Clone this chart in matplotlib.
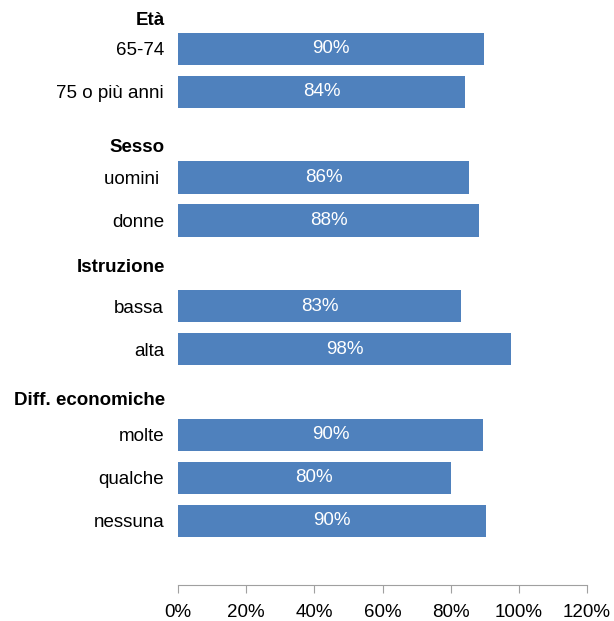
import matplotlib.pyplot as plt

# rows of the chart (top to bottom), slot index on y
labels = ["65-74", "75 o più anni", "uomini ", "donne", "bassa", "alta",
          "molte", "qualche", "nessuna"]
slots = [0, 1, 3, 4, 6, 7, 9, 10, 11]
values = [89.7, 84.2, 85.5, 88.4, 83.0, 97.7, 89.5, 80.0, 90.3]
value_text = ["90%", "84%", "86%", "88%", "83%", "98%", "90%", "80%", "90%"]

headers = ["Età", "Sesso", "Istruzione", "Diff. economiche"]
header_slots = [-0.67, 2.3, 5.1, 8.2]

xticks = [0, 20, 40, 60, 80, 100, 120]

plt.rcParams['font.family'] = ['Liberation Sans', 'DejaVu Sans']
fs = 13.5

fig = plt.figure(figsize=(6.14, 6.21), dpi=100)
ax = fig.add_axes([178 / 614, (621 - 585) / 621, (587 - 178) / 614, 585 / 621])

ax.barh(slots, values, height=0.75, color="#4f81bd")
for s, v, t in zip(slots, values, value_text):
    ax.text(v / 2, s, t, ha="center", va="center", color="white", fontsize=fs)

ax.set_xlim(0, 120)
ax.set_ylim(12.5, -1.14)
ax.set_xticks(xticks)
ax.set_xticklabels([f"{t}%" for t in xticks], fontsize=fs)
ax.set_yticks(slots)
ax.set_yticklabels(labels, fontsize=fs)
ax.tick_params(axis="y", length=0, pad=10)
ax.tick_params(axis="x", length=6, color="#a0a0a0", pad=8)

for hs, h in zip(header_slots, headers):
    ax.text(-13 / 3.41, hs, h, ha="right", va="center", fontsize=fs,
            fontweight="bold")

for side in ["top", "right", "left"]:
    ax.spines[side].set_visible(False)
ax.spines["bottom"].set_color("#a0a0a0")

fig.savefig("out.png", dpi=100)
